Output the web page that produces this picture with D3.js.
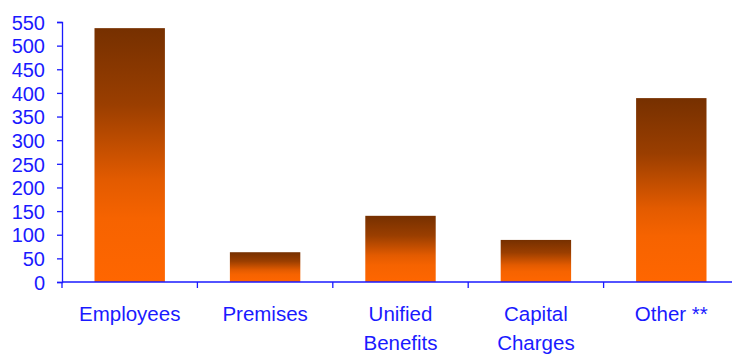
<!DOCTYPE html>
<html>
<head>
<meta charset="utf-8">
<script src="https://cdn.jsdelivr.net/npm/d3@7"></script>
<style>
  body { margin: 0; background: #fff; }
  svg { display: block; }
  .axis text { font-family: "Liberation Sans", Arial, sans-serif; font-size: 20px; fill: #1a1aff; }
  .axis .lab { font-size: 20.5px; }
</style>
</head>
<body>
<svg width="732" height="354"></svg>
<script>
const categories = [['Employees'], ['Premises'], ['Unified', 'Benefits'], ['Capital', 'Charges'], ['Other **']]
const values = [537, 63, 140, 89, 389]
const yTicks = [0, 50, 100, 150, 200, 250, 300, 350, 400, 450, 500, 550]

const blue = '#1a1aff'
const margin = {top: 22, right: -7, bottom: 72, left: 62}
const svg = d3.select('svg')
const width = 732 - margin.left - margin.right
const height = 354 - margin.top - margin.bottom
const g = svg.append('g').attr('transform', `translate(${margin.left},${margin.top})`)

const x = d3.scaleBand()
  .domain(d3.range(categories.length))
  .range([0, width])
  .paddingInner(0.48).paddingOuter(0.24)
const xOuter = d3.scaleBand().domain(d3.range(categories.length)).range([0, width])
const y = d3.scaleLinear().domain([0, 550]).range([height, 0])

const grad = svg.append('defs').append('linearGradient')
  .attr('id', 'barfill')
  .attr('x1', 0).attr('y1', 0).attr('x2', 0).attr('y2', 1)
grad.selectAll('stop')
  .data([[0, '#763000'], [0.3, '#9a3e00'], [0.6, '#e35b00'], [0.75, '#f66300'], [1, '#ff6600']])
  .enter().append('stop')
  .attr('offset', d => d[0])
  .attr('stop-color', d => d[1])

g.selectAll('.bar')
  .data(values)
  .enter().append('rect')
  .attr('class', 'bar')
  .attr('x', (d, i) => x(i))
  .attr('width', x.bandwidth())
  .attr('y', d => y(d))
  .attr('height', d => height - y(d))
  .attr('fill', 'url(#barfill)')

// y axis
const yAxis = g.append('g').attr('class', 'axis')
  .call(d3.axisLeft(y).tickValues(yTicks).tickSize(5).tickPadding(12))
yAxis.selectAll('path, line').attr('stroke', blue).attr('stroke-width', 1.3)
yAxis.selectAll('text').attr('dy', '0.36em')

// x axis: ticks between categories
const xAxis = g.append('g').attr('class', 'axis').attr('transform', `translate(0,${height})`)
xAxis.append('line').attr('x1', 0).attr('x2', width).attr('stroke', blue).attr('stroke-width', 1.3)
xAxis.selectAll('.tick')
  .data(d3.range(categories.length + 1))
  .enter().append('line')
  .attr('x1', i => i < categories.length ? xOuter(i) : width)
  .attr('x2', i => i < categories.length ? xOuter(i) : width)
  .attr('y1', 0).attr('y2', 6)
  .attr('stroke', blue).attr('stroke-width', 1.3)

const labels = xAxis.selectAll('.lab')
  .data(categories)
  .enter().append('text')
  .attr('class', 'lab')
  .attr('text-anchor', 'middle')
  .attr('transform', (d, i) => `translate(${xOuter(i) + xOuter.bandwidth() / 2},0)`)
labels.selectAll('tspan')
  .data(d => d)
  .enter().append('tspan')
  .attr('x', 0)
  .attr('y', (d, j) => 39 + j * 29)
  .text(d => d)
</script>
</body>
</html>
